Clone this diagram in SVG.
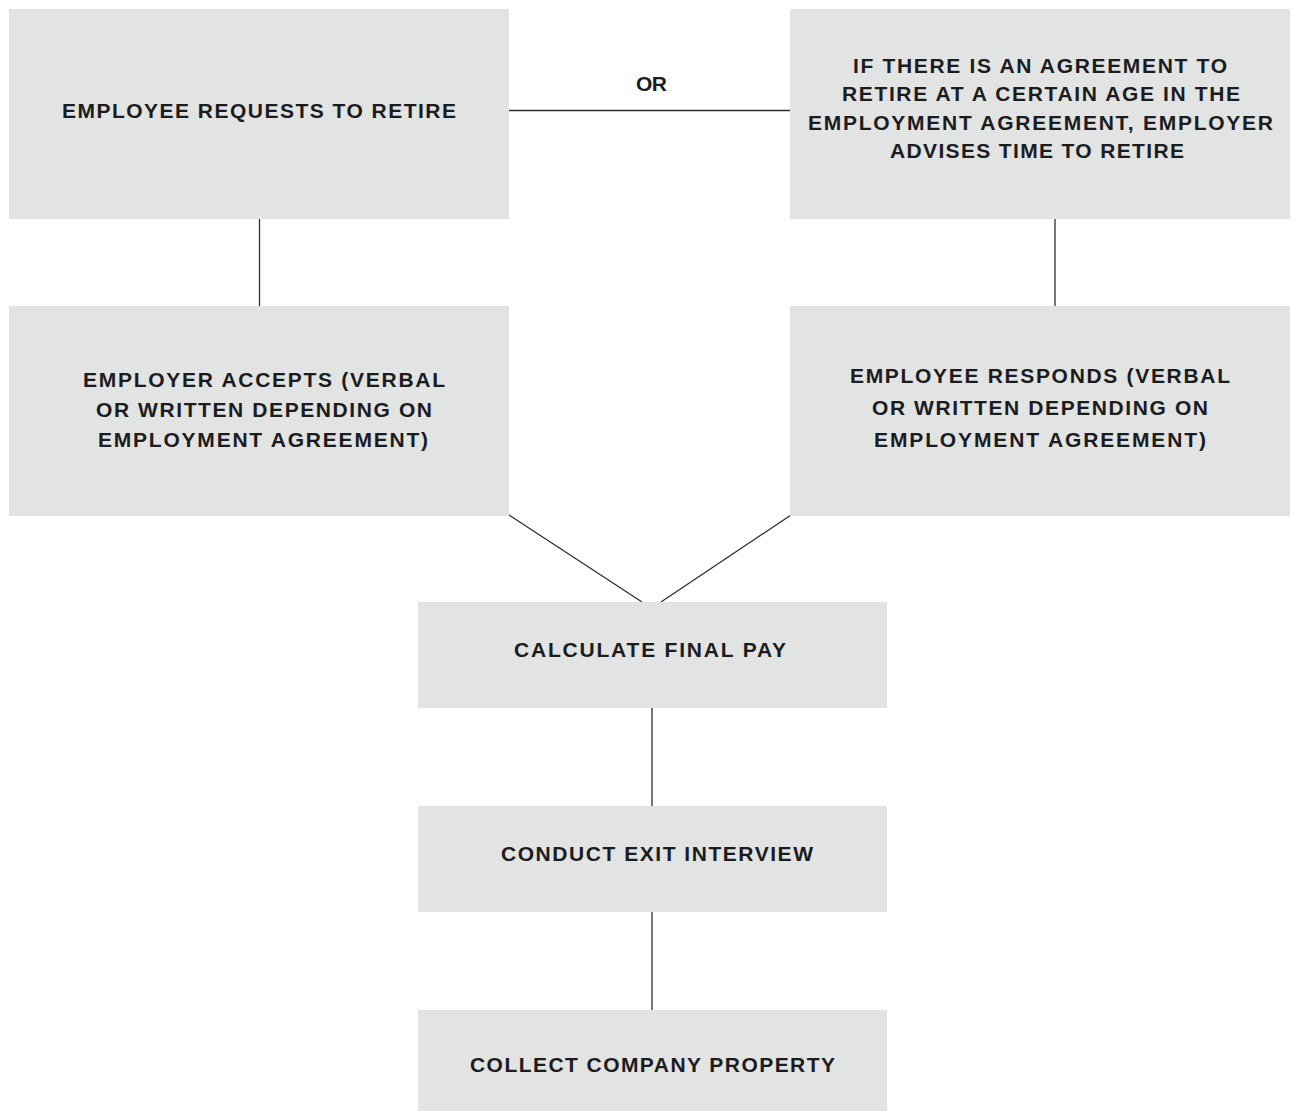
<svg xmlns="http://www.w3.org/2000/svg" width="1293" height="1111" viewBox="0 0 1293 1111">
<style>
.box{fill:#e2e3e3}
.t{font-family:"Liberation Sans",Arial,sans-serif;font-weight:bold;font-size:21px;fill:#1c1c1e}
.c{stroke:#2e2e2e;stroke-width:1.3;fill:none}
</style>
<rect width="1293" height="1111" fill="#ffffff"/>
<g id="connectors">
<line class="c" x1="509" y1="110.5" x2="790" y2="110.5"/>
<line class="c" x1="259.5" y1="219" x2="259.5" y2="306"/>
<line class="c" x1="1055" y1="219" x2="1055" y2="306"/>
<line class="c" x1="509" y1="515" x2="642" y2="602"/>
<line class="c" x1="791" y1="515" x2="661" y2="602"/>
<line class="c" x1="652" y1="708" x2="652" y2="806"/>
<line class="c" x1="652" y1="912" x2="652" y2="1010"/>
<text class="t" x="636" y="91" textLength="31" lengthAdjust="spacing">OR</text>
</g>
<g id="n1">
<rect class="box" x="9" y="9" width="500" height="210"/>
<text class="t" x="62" y="118" textLength="394" lengthAdjust="spacing">EMPLOYEE REQUESTS TO RETIRE</text>
</g>
<g id="n2">
<rect class="box" x="790" y="9" width="500" height="210"/>
<text class="t" x="853" y="72.7" textLength="374" lengthAdjust="spacing">IF THERE IS AN AGREEMENT TO</text>
<text class="t" x="842" y="101" textLength="398" lengthAdjust="spacing">RETIRE AT A CERTAIN AGE IN THE</text>
<text class="t" x="808" y="129.5" textLength="465" lengthAdjust="spacing">EMPLOYMENT AGREEMENT, EMPLOYER</text>
<text class="t" x="890" y="158" textLength="294" lengthAdjust="spacing">ADVISES TIME TO RETIRE</text>
</g>
<g id="n3">
<rect class="box" x="9" y="306" width="500" height="210"/>
<text class="t" x="83" y="386.7" textLength="362" lengthAdjust="spacing">EMPLOYER ACCEPTS (VERBAL</text>
<text class="t" x="96" y="416.7" textLength="336" lengthAdjust="spacing">OR WRITTEN DEPENDING ON</text>
<text class="t" x="98" y="446.7" textLength="330" lengthAdjust="spacing">EMPLOYMENT AGREEMENT)</text>
</g>
<g id="n4">
<rect class="box" x="790" y="306" width="500" height="210"/>
<text class="t" x="850" y="383.3" textLength="380" lengthAdjust="spacing">EMPLOYEE RESPONDS (VERBAL</text>
<text class="t" x="872" y="415" textLength="336" lengthAdjust="spacing">OR WRITTEN DEPENDING ON</text>
<text class="t" x="874" y="446.7" textLength="332" lengthAdjust="spacing">EMPLOYMENT AGREEMENT)</text>
</g>
<g id="n5">
<rect class="box" x="418" y="602" width="469" height="106"/>
<text class="t" x="514" y="657" textLength="272" lengthAdjust="spacing">CALCULATE FINAL PAY</text>
</g>
<g id="n6">
<rect class="box" x="418" y="806" width="469" height="106"/>
<text class="t" x="501" y="861" textLength="312" lengthAdjust="spacing">CONDUCT EXIT INTERVIEW</text>
</g>
<g id="n7">
<rect class="box" x="418" y="1010" width="469" height="101"/>
<text class="t" x="470" y="1072" textLength="365" lengthAdjust="spacing">COLLECT COMPANY PROPERTY</text>
</g>
</svg>
